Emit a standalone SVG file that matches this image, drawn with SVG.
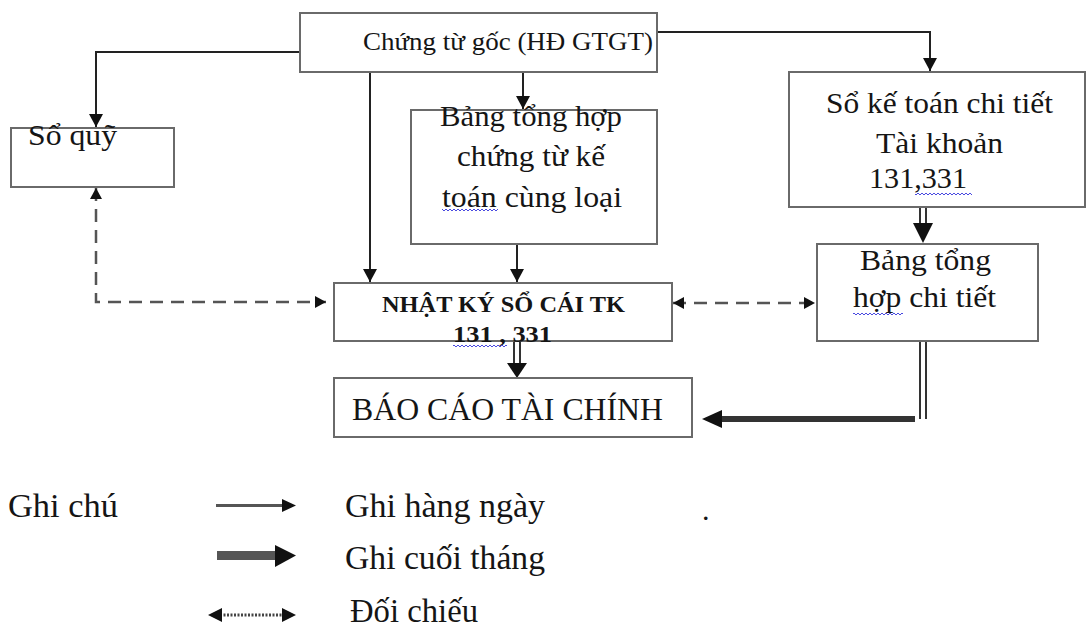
<svg xmlns="http://www.w3.org/2000/svg" width="1086" height="628" viewBox="0 0 1086 628">
<style>
.box{fill:#fff;stroke:#6a6a6a;stroke-width:2}
.ln{fill:none;stroke:#222;stroke-width:2}
.dl{fill:none;stroke:#333;stroke-width:2}
.dash{fill:none;stroke:#555;stroke-width:2.5;stroke-dasharray:13 8}
.t{font-family:"Liberation Serif","Times New Roman",serif;fill:#151515}
.b{font-weight:bold}
.head{fill:#111}
</style>
<defs>
<marker id="arr" markerUnits="userSpaceOnUse" markerWidth="14" markerHeight="14" refX="13" refY="7" orient="auto"><path d="M0,0 L13,7 L0,14 z" fill="#111"/></marker>
<marker id="darr" markerUnits="userSpaceOnUse" markerWidth="12" markerHeight="12" refX="11" refY="6" orient="auto-start-reverse"><path d="M0,0 L11,6 L0,12 z" fill="#111"/></marker>
<pattern id="wave" width="4" height="4" patternUnits="userSpaceOnUse"><path d="M0,3 L2,1 L4,3" stroke="#4a4ae0" fill="none" stroke-width="1"/></pattern>
</defs>

<g id="connectors">
<path class="ln" d="M300,52 H96 V127" marker-end="url(#arr)"/>
<path class="ln" d="M657,32 H930 V71" marker-end="url(#arr)"/>
<path class="ln" d="M370,72 V282" marker-end="url(#arr)"/>
<path class="ln" d="M523,72 V109" marker-end="url(#arr)"/>
<path class="ln" d="M517,244 V282" marker-end="url(#arr)"/>
<path class="dash" d="M96,188 V302 H326" marker-start="url(#darr)" marker-end="url(#darr)"/>
<path class="dash" d="M673,303 H815" marker-start="url(#darr)" marker-end="url(#darr)"/>
<!-- double line NK -> BCTC -->
<line class="dl" x1="514" y1="342" x2="514" y2="364"/>
<line class="dl" x1="520" y1="342" x2="520" y2="364"/>
<polygon class="head" points="507,363 527,363 517,378"/>
<!-- double line So KT -> Bang CT -->
<line class="dl" x1="920" y1="207" x2="920" y2="224"/>
<line class="dl" x1="926" y1="207" x2="926" y2="224"/>
<polygon class="head" points="913,223 933,223 923,243"/>
<!-- Bang CT -> BCTC -->
<line class="dl" x1="920" y1="341" x2="920" y2="419"/>
<line class="dl" x1="926" y1="341" x2="926" y2="419"/>
<rect x="720" y="416" width="195" height="6" fill="#333"/>
<polygon class="head" points="722,410 722,428 702,419"/>
</g>

<g id="n-chungtugoc">
<rect class="box" x="300" y="13" width="357" height="59"/>
<text class="t" x="363" y="50" font-size="26" textLength="290" lengthAdjust="spacingAndGlyphs">Chứng từ gốc (HĐ GTGT)</text>
</g>

<g id="n-soquy">
<rect class="box" x="11" y="128" width="163" height="59"/>
<text class="t" x="28" y="145" font-size="29" textLength="89" lengthAdjust="spacingAndGlyphs">Sổ quỹ</text>
</g>

<g id="n-bangthctu">
<rect class="box" x="411" y="110" width="246" height="134"/>
<text class="t" x="440" y="126" font-size="30" textLength="182" lengthAdjust="spacingAndGlyphs">Bảng tổng hợp</text>
<text class="t" x="457" y="166" font-size="30" textLength="148" lengthAdjust="spacingAndGlyphs">chứng từ kế</text>
<text class="t" x="442" y="207" font-size="30" textLength="180" lengthAdjust="spacingAndGlyphs">toán cùng loại</text>
<rect x="442" y="207" width="56" height="4" fill="url(#wave)"/>
</g>

<g id="n-nhatky">
<rect class="box" x="334" y="283" width="338" height="58"/>
<text class="t b" x="382" y="312" font-size="24" textLength="243" lengthAdjust="spacingAndGlyphs">NHẬT KÝ SỔ CÁI TK</text>
<text class="t b" x="453" y="342" font-size="24" textLength="99" lengthAdjust="spacingAndGlyphs">131 , 331</text>
<rect x="453" y="345" width="54" height="4" fill="url(#wave)"/>
</g>

<g id="n-bctc">
<rect class="box" x="334" y="378" width="358" height="59"/>
<text class="t" x="352" y="420" font-size="31" textLength="311" lengthAdjust="spacingAndGlyphs">BÁO CÁO TÀI CHÍNH</text>
</g>

<g id="n-soketoan">
<rect class="box" x="789" y="72" width="296" height="135"/>
<text class="t" x="826" y="113" font-size="30" textLength="227" lengthAdjust="spacingAndGlyphs">Sổ kế toán chi tiết</text>
<text class="t" x="876" y="153" font-size="30" textLength="127" lengthAdjust="spacingAndGlyphs">Tài khoản</text>
<text class="t" x="869" y="188" font-size="30" textLength="98" lengthAdjust="spacingAndGlyphs">131,331</text>
<rect x="915" y="191" width="57" height="4" fill="url(#wave)"/>
</g>

<g id="n-bangthct">
<rect class="box" x="817" y="244" width="221" height="97"/>
<text class="t" x="860" y="270" font-size="30" textLength="131" lengthAdjust="spacingAndGlyphs">Bảng tổng</text>
<text class="t" x="853" y="307" font-size="30" textLength="143" lengthAdjust="spacingAndGlyphs">hợp chi tiết</text>
<rect x="853" y="311" width="50" height="4" fill="url(#wave)"/>
</g>

<g id="legend">
<text class="t" x="8" y="517" font-size="33" textLength="110" lengthAdjust="spacingAndGlyphs">Ghi chú</text>
<line x1="216" y1="505.5" x2="285" y2="505.5" stroke="#555" stroke-width="3"/>
<polygon class="head" points="282,499 296,505.5 282,512"/>
<text class="t" x="345" y="517" font-size="33" textLength="200" lengthAdjust="spacingAndGlyphs">Ghi hàng ngày</text>
<rect x="217" y="551" width="60" height="9" fill="#555"/>
<polygon class="head" points="275,545 296,555.5 275,567"/>
<text class="t" x="345" y="569" font-size="33" textLength="200" lengthAdjust="spacingAndGlyphs">Ghi cuối tháng</text>
<line x1="220" y1="615" x2="284" y2="615" stroke="#444" stroke-width="3" stroke-dasharray="2 1.5"/>
<polygon class="head" points="208,615 222,608 222,622"/>
<polygon class="head" points="282,608 296,615 282,622"/>
<text class="t" x="350" y="622" font-size="33" textLength="128" lengthAdjust="spacingAndGlyphs">Đối chiếu</text>
<text class="t" x="702" y="520" font-size="30">.</text>
</g>
</svg>
